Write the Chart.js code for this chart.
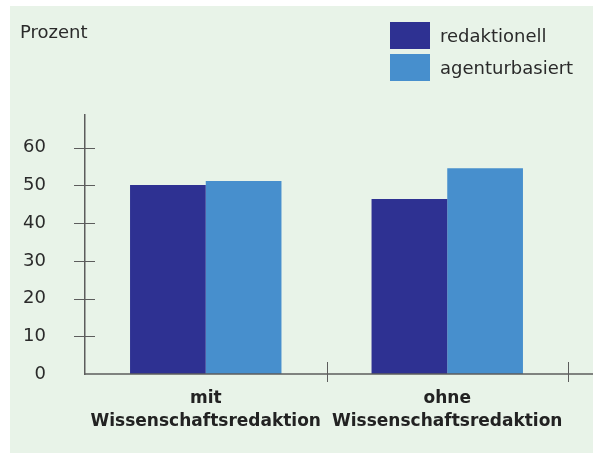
<!DOCTYPE html>
<html>
<head>
<meta charset="utf-8">
<script src="https://cdn.jsdelivr.net/npm/chart.js@4"></script>
<style>
  html, body { margin: 0; padding: 0; background: #fff; }
  .panel {
    position: absolute;
    left: 10px;
    top: 6px;
    width: 583px;
    height: 447px;
    background: #e8f3e8;
  }
</style>
</head>
<body>
<div class="panel"><canvas id="chart"></canvas></div>
<script>
const categories = [['mit', 'Wissenschaftsredaktion'], ['ohne', 'Wissenschaftsredaktion']];
const seriesNames = ['redaktionell', 'agenturbasiert'];
const redaktionell = [50.1, 46.4];
const agenturbasiert = [51.2, 54.6];
const yTicks = [0, 10, 20, 30, 40, 50, 60];
const yTitle = 'Prozent';

const axisColor = '#5c5c5c';
const textColor = '#2a2a2a';

// axis lines, crossing tick marks, unit label and legend
const decorations = {
    id: 'decorations',
    afterDraw(chart) {
        const ctx = chart.ctx;
        const area = chart.chartArea;
        const x = chart.scales.x;
        const y = chart.scales.y;
        ctx.save();

        ctx.strokeStyle = axisColor;
        ctx.lineWidth = 1.5;
        ctx.beginPath();
        ctx.moveTo(area.left, area.bottom);
        ctx.lineTo(chart.width, area.bottom);
        ctx.stroke();

        ctx.lineWidth = 1;
        y.ticks.forEach(t => {
            const py = Math.round(y.getPixelForValue(t.value)) + 0.5;
            if (t.value === 0) return;
            ctx.beginPath();
            ctx.moveTo(area.left - 11, py);
            ctx.lineTo(area.left + 10, py);
            ctx.stroke();
        });

        const half = (x.getPixelForTick(1) - x.getPixelForTick(0)) / 2;
        x.ticks.forEach((t, i) => {
            const px = Math.round(x.getPixelForTick(i) + half) + 0.5;
            ctx.beginPath();
            ctx.moveTo(px, area.bottom - 12);
            ctx.lineTo(px, area.bottom + 8);
            ctx.stroke();
        });

        ctx.fillStyle = textColor;
        ctx.font = '18px "DejaVu Sans"';
        ctx.textBaseline = 'alphabetic';
        ctx.textAlign = 'left';
        ctx.fillText(yTitle, 10, 32);

        chart.data.datasets.forEach((ds, i) => {
            const top = 16 + i * 32;
            ctx.fillStyle = ds.backgroundColor;
            ctx.fillRect(380, top, 40, 27);
            ctx.fillStyle = textColor;
            ctx.fillText(ds.label, 430, top + 20);
        });
        ctx.restore();
    }
};

Chart.defaults.font.family = '"DejaVu Sans", sans-serif';
Chart.defaults.color = textColor;

new Chart(document.getElementById('chart'), {
    type: 'bar',
    data: {
        labels: categories,
        datasets: [
            {
                label: seriesNames[0],
                data: redaktionell,
                backgroundColor: '#2e3192'
            },
            {
                label: seriesNames[1],
                data: agenturbasiert,
                backgroundColor: '#478fcd'
            }
        ]
    },
    options: {
        responsive: true,
        maintainAspectRatio: false,
        animation: false,
        categoryPercentage: 0.627,
        barPercentage: 1,
        layout: { padding: { top: 109, right: 25, left: 0, bottom: 0 } },
        plugins: {
            legend: { display: false },
            tooltip: { enabled: false }
        },
        scales: {
            x: {
                grid: { display: false, drawTicks: false },
                border: { display: false },
                ticks: {
                    padding: 13,
                    color: '#222',
                    font: { size: 17, weight: 'bold', lineHeight: 1.35 }
                },
                afterFit(scale) { scale.height = 79; }
            },
            y: {
                min: 0,
                max: 68.7,
                grid: { display: false, drawTicks: false },
                border: { display: true, color: axisColor, width: 1.5 },
                ticks: {
                    padding: 39,
                    color: textColor,
                    font: { size: 18 }
                },
                afterBuildTicks(scale) {
                    scale.ticks = yTicks.map(v => ({ value: v }));
                },
                afterFit(scale) { scale.width = 75; }
            }
        }
    },
    plugins: [decorations]
});
</script>
</body>
</html>
